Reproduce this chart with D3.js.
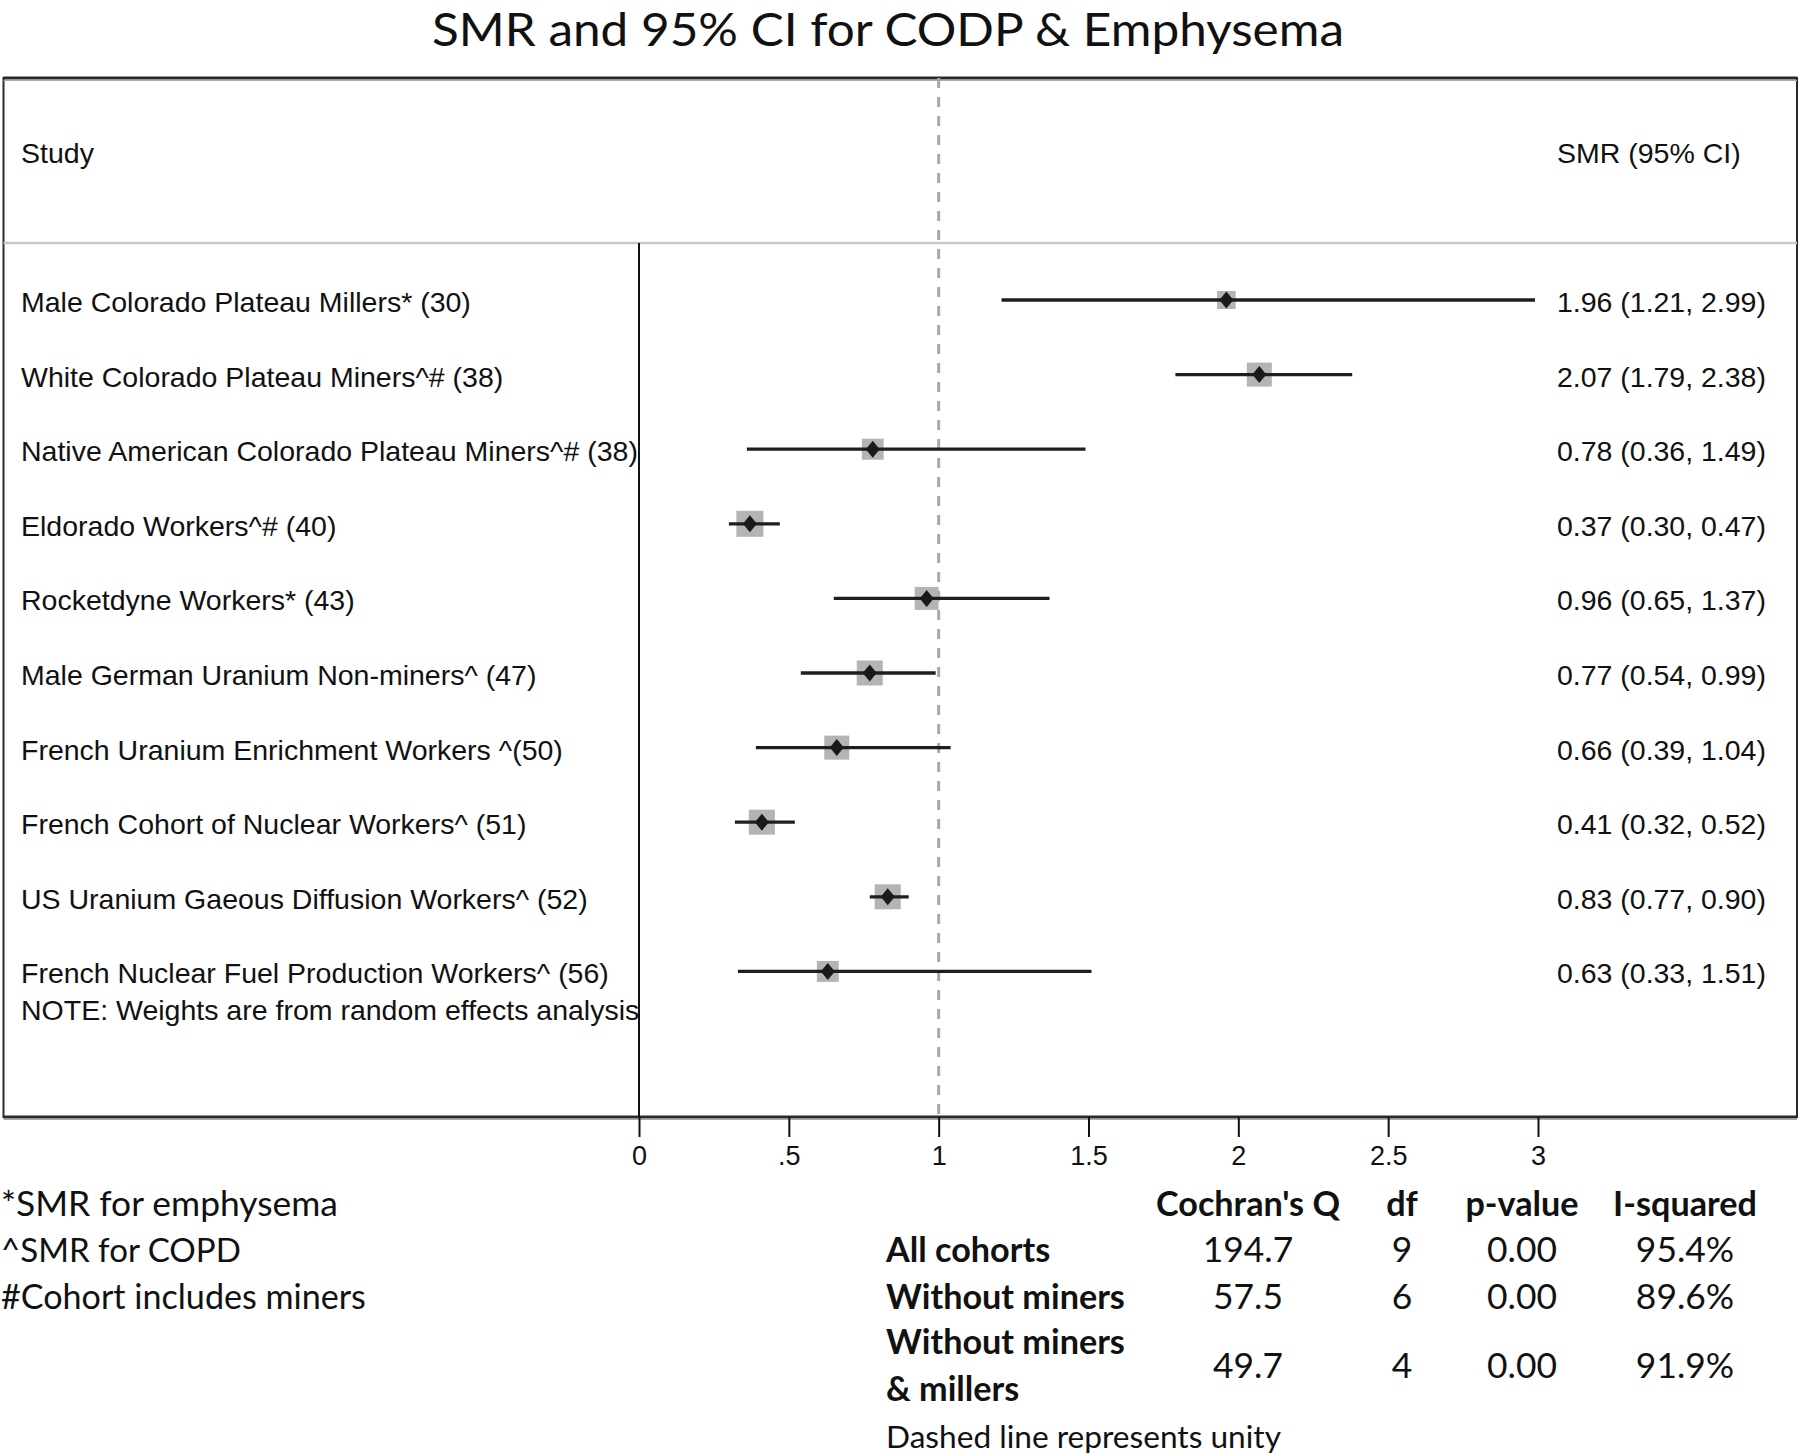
<!DOCTYPE html>
<html>
<head>
  <meta charset="utf-8" />
  <title>SMR and 95% CI for CODP &amp; Emphysema</title>
  <script src="https://d3js.org/d3.v7.min.js"></script>
</head>
<style>
body {
  margin: 0;
  background: #fff;
}
</style>
<body>
<div id="viz"></div>
<script>
'use strict';

// study rows, top to bottom
const studies = [
  'Male Colorado Plateau Millers* (30)',
  'White Colorado Plateau Miners^# (38)',
  'Native American Colorado Plateau Miners^# (38)',
  'Eldorado Workers^# (40)',
  'Rocketdyne Workers* (43)',
  'Male German Uranium Non-miners^ (47)',
  'French Uranium Enrichment Workers ^(50)',
  'French Cohort of Nuclear Workers^ (51)',
  'US Uranium Gaeous Diffusion Workers^ (52)',
  'French Nuclear Fuel Production Workers^ (56)'
];
const smr   = [1.96, 2.07, 0.78, 0.37, 0.96, 0.77, 0.66, 0.41, 0.83, 0.63];
const ciLow = [1.21, 1.79, 0.36, 0.30, 0.65, 0.54, 0.39, 0.32, 0.77, 0.33];
const ciHigh = [2.99, 2.38, 1.49, 0.47, 1.37, 0.99, 1.04, 0.52, 0.90, 1.51];
// random effects weights (%)
const weights = [5.9, 10.6, 8.1, 12.4, 9.7, 11.5, 10.6, 11.5, 11.5, 8.1];

const xTicks = [0, 0.5, 1, 1.5, 2, 2.5, 3];
const xTickLabels = ['0', '.5', '1', '1.5', '2', '2.5', '3'];

const footnotes = ['*SMR for emphysema', '^SMR for COPD', '#Cohort includes miners'];
const hetHeaders = ["Cochran's Q", 'df', 'p-value', 'I-squared'];
const hetGroups = [['All cohorts'], ['Without miners'], ['Without miners', '& millers']];
const cochranQ = ['194.7', '57.5', '49.7'];
const hetDf = ['9', '6', '4'];
const pValue = ['0.00', '0.00', '0.00'];
const iSquared = ['95.4%', '89.6%', '91.9%'];

const W = 1800, H = 1456;
const sans = '"Liberation Sans", Arial, Helvetica, sans-serif';
const cal = 'Lato, Carlito, Calibri, sans-serif';

const svg = d3.select('#viz').append('svg')
  .attr('width', W)
  .attr('height', H)
  .style('display', 'block');

const frame = {left: 3.5, right: 1797, top: 78, bottom: 1117, header: 243};

const x = d3.scaleLinear().domain([0, 3]).range([639, 1538]);
const y = d3.scalePoint().domain(d3.range(studies.length)).range([300, 971.4]);
const box = d3.scaleSqrt().domain([0, d3.max(weights)]).range([0, 26]);

// scale a text's font size so that it spans the given width
function fit(sel, target) {
  const w = sel.node().getComputedTextLength();
  const fs = parseFloat(sel.attr('font-size')) * target / w;
  sel.attr('font-size', fs);
  return fs;
}

// title: Calibri-like proportions, so keep the height and stretch to width
svg.append('text')
  .attr('x', 888).attr('y', 46)
  .attr('text-anchor', 'middle')
  .attr('font-family', cal)
  .attr('font-size', 46)
  .attr('textLength', 912)
  .attr('lengthAdjust', 'spacingAndGlyphs')
  .attr('fill', '#111')
  .text('SMR and 95% CI for CODP & Emphysema');

// frame
svg.append('rect')
  .attr('x', frame.left).attr('y', frame.top)
  .attr('width', frame.right - frame.left)
  .attr('height', frame.bottom - frame.top)
  .attr('fill', 'none')
  .attr('stroke', '#2a2a2a')
  .attr('stroke-width', 2);
[frame.top, frame.bottom].forEach(yy => {
  svg.append('line')
    .attr('x1', frame.left).attr('x2', frame.right)
    .attr('y1', yy).attr('y2', yy)
    .attr('stroke', '#2a2a2a').attr('stroke-width', 3);
  svg.append('line')
    .attr('x1', frame.left).attr('x2', frame.right)
    .attr('y1', yy + 2.5).attr('y2', yy + 2.5)
    .attr('stroke', '#aaa').attr('stroke-width', 1);
});
svg.append('line')
  .attr('x1', frame.left).attr('x2', frame.right)
  .attr('y1', frame.header).attr('y2', frame.header)
  .attr('stroke', '#c8c8c8').attr('stroke-width', 2.5);

// null line (unity)
svg.append('line')
  .attr('x1', x(1)).attr('x2', x(1))
  .attr('y1', frame.top).attr('y2', frame.bottom)
  .attr('stroke', '#a8a8a8')
  .attr('stroke-width', 3)
  .attr('stroke-dasharray', '10,9');

// zero axis line
svg.append('line')
  .attr('x1', x(0)).attr('x2', x(0))
  .attr('y1', frame.header).attr('y2', frame.bottom)
  .attr('stroke', '#111').attr('stroke-width', 2);

// column headers
svg.append('text')
  .attr('x', 21).attr('y', 153).attr('dy', '0.35em')
  .attr('font-family', sans).attr('font-size', 28.5).attr('fill', '#111')
  .text('Study');
svg.append('text')
  .attr('x', 1557).attr('y', 153).attr('dy', '0.35em')
  .attr('font-family', sans).attr('font-size', 28.5).attr('fill', '#111')
  .text('SMR (95% CI)');

const rowData = studies.map((s, i) => ({s, i, est: smr[i], lo: ciLow[i], hi: ciHigh[i], w: weights[i]}));
const ciText = d => d.est.toFixed(2) + ' (' + d.lo.toFixed(2) + ', ' + d.hi.toFixed(2) + ')';

const rows = svg.append('g').selectAll('g')
  .data(rowData)
  .join('g');

rows.append('text')
  .attr('x', 21).attr('y', d => y(d.i) + 2).attr('dy', '0.35em')
  .attr('font-family', sans).attr('font-size', 28.5).attr('fill', '#111')
  .text(d => d.s);

const valSize = (() => {
  const t = svg.append('text')
    .attr('font-family', sans).attr('font-size', 26)
    .text(ciText(rowData[0]));
  const s = fit(t, 209);
  t.remove();
  return s;
})();

rows.append('text')
  .attr('x', 1557).attr('y', d => y(d.i) + 2).attr('dy', '0.35em')
  .attr('font-family', sans).attr('font-size', valSize).attr('fill', '#111')
  .text(ciText);

rows.append('rect')
  .attr('x', d => x(d.est) - box(d.w) * 0.52)
  .attr('y', d => y(d.i) - box(d.w) / 2)
  .attr('width', d => box(d.w) * 1.04)
  .attr('height', d => box(d.w))
  .attr('fill', '#b4b4b4');

rows.append('line')
  .attr('x1', d => x(d.lo)).attr('x2', d => x(d.hi))
  .attr('y1', d => y(d.i)).attr('y2', d => y(d.i))
  .attr('stroke', '#1e1e1e').attr('stroke-width', 3.3);

rows.append('path')
  .attr('d', d => {
    const cx = x(d.est), cy = y(d.i);
    return `M${cx},${cy - 8.5}L${cx + 7},${cy}L${cx},${cy + 8.5}L${cx - 7},${cy}Z`;
  })
  .attr('fill', '#1a1a1a');

svg.append('text')
  .attr('x', 21).attr('y', 1010).attr('dy', '0.35em')
  .attr('font-family', sans).attr('font-size', 28.5).attr('fill', '#111')
  .text('NOTE: Weights are from random effects analysis');

// x axis
const axis = svg.append('g')
  .attr('transform', `translate(0,${frame.bottom})`)
  .call(d3.axisBottom(x)
    .tickValues(xTicks)
    .tickFormat((d, i) => xTickLabels[i])
    .tickSize(20)
    .tickPadding(9));
axis.select('.domain').remove();
axis.selectAll('.tick line').attr('stroke', '#111').attr('stroke-width', 2);
axis.selectAll('.tick text')
  .attr('font-family', sans).attr('font-size', 27).attr('fill', '#111');

// footnotes
const noteY = [1204, 1250, 1297];
const noteW = [337, 240, 365];
let footSize = 34;
footnotes.forEach((t, i) => {
  const n = svg.append('text')
    .attr('x', 1).attr('y', noteY[i]).attr('dy', '0.35em')
    .attr('font-family', cal).attr('font-size', 34).attr('fill', '#111')
    .text(t);
  const s = fit(n, noteW[i]);
  if (i === 0) footSize = s;
});

// heterogeneity table
const colX = [1248, 1402, 1522, 1685];
const boldSize = (() => {
  const t = svg.append('text')
    .attr('font-family', cal).attr('font-weight', 'bold').attr('font-size', 34)
    .text('Without miners');
  const s = fit(t, 239);
  t.remove();
  return s;
})();

hetHeaders.forEach((h, j) => {
  svg.append('text')
    .attr('x', colX[j]).attr('y', 1204).attr('dy', '0.35em')
    .attr('text-anchor', 'middle')
    .attr('font-family', cal).attr('font-weight', 'bold').attr('font-size', boldSize)
    .attr('fill', '#111')
    .text(h);
});

const groupY = [1250, 1297, 1366];
hetGroups.forEach((lines, i) => {
  lines.forEach((l, k) => {
    const ly = lines.length === 1 ? groupY[i] : groupY[i] + (k - 0.5) * 47;
    svg.append('text')
      .attr('x', 886).attr('y', ly).attr('dy', '0.35em')
      .attr('font-family', cal).attr('font-weight', 'bold').attr('font-size', boldSize)
      .attr('fill', '#111')
      .text(l);
  });
  [cochranQ[i], hetDf[i], pValue[i], iSquared[i]].forEach((v, j) => {
    svg.append('text')
      .attr('x', colX[j]).attr('y', groupY[i]).attr('dy', '0.35em')
      .attr('text-anchor', 'middle')
      .attr('font-family', cal).attr('font-size', footSize)
      .attr('fill', '#111')
      .text(v);
  });
});

const unity = svg.append('text')
  .attr('x', 886).attr('y', 1437).attr('dy', '0.35em')
  .attr('font-family', cal).attr('font-size', footSize).attr('fill', '#111')
  .text('Dashed line represents unity');
fit(unity, 395);
</script>
</body>
</html>
